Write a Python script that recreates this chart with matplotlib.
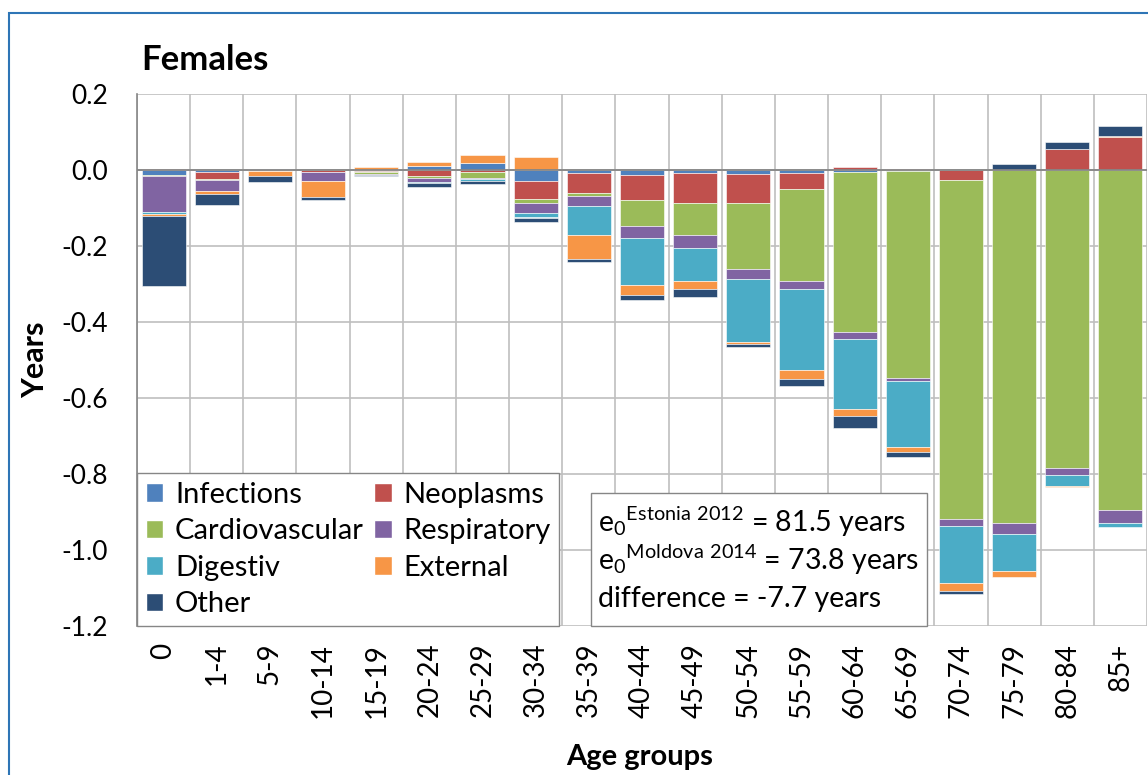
import numpy as np
import matplotlib
matplotlib.use('Agg')
import matplotlib.pyplot as plt
from matplotlib.patches import Rectangle, Patch

plt.rcParams['font.family'] = ['Lato', 'DejaVu Sans']
plt.rcParams['mathtext.default'] = 'regular'
plt.rcParams['axes.unicode_minus'] = False

ages = ['0', '1-4', '5-9', '10-14', '15-19', '20-24', '25-29', '30-34', '35-39', '40-44',
        '45-49', '50-54', '55-59', '60-64', '65-69', '70-74', '75-79', '80-84', '85+']
causes = ['Infections', 'Neoplasms', 'Cardiovascular', 'Respiratory', 'Digestiv', 'External', 'Other']
colors = ['#4F81BD', '#C0504D', '#9BBB59', '#8064A2', '#4BACC6', '#F79646', '#2C4D75']
yticks = [-1.2, -1.0, -0.8, -0.6, -0.4, -0.2, 0.0, 0.2]
ytick_labels = ['-1.2', '-1.0', '-0.8', '-0.6', '-0.4', '-0.2', '0.0', '0.2']

infections = [-0.013, -0.005, -0.001, 0.0, -0.002, 0.011, 0.018, -0.029, -0.009, -0.014,
              -0.009, -0.011, -0.009, -0.005, -0.003, 0.0, 0.0, 0.0, 0.0]
neoplasms = [0.003, -0.018, 0.0, -0.004, -0.003, -0.016, -0.004, -0.048, -0.051, -0.066,
             -0.077, -0.077, -0.040, 0.009, 0.003, -0.026, 0.0, 0.055, 0.088]
cardio = [-0.003, -0.004, -0.001, 0.0, -0.006, -0.006, -0.016, -0.011, -0.009, -0.068,
          -0.085, -0.172, -0.243, -0.420, -0.545, -0.893, -0.928, -0.783, -0.895]
respiratory = [-0.095, -0.029, 0.003, -0.026, -0.002, -0.009, -0.004, -0.026, -0.026, -0.030,
               -0.035, -0.028, -0.021, -0.020, -0.006, -0.018, -0.030, -0.020, -0.033]
digestiv = [-0.004, 0.0, -0.001, 0.0, -0.001, -0.003, -0.006, -0.011, -0.077, -0.124,
            -0.086, -0.164, -0.214, -0.185, -0.176, -0.151, -0.096, -0.028, -0.011]
external = [-0.007, -0.006, -0.013, -0.042, 0.008, 0.009, 0.022, 0.035, -0.062, -0.028,
            -0.020, -0.007, -0.023, -0.018, -0.013, -0.019, -0.018, -0.004, 0.002]
other = [-0.182, -0.029, -0.015, -0.006, -0.003, -0.011, -0.006, -0.011, -0.009, -0.011,
         -0.022, -0.006, -0.018, -0.031, -0.013, -0.008, 0.015, 0.020, 0.027]

data = [infections, neoplasms, cardio, respiratory, digestiv, external, other]

W, H = 1148, 775
fig = plt.figure(figsize=(W / 100, H / 100), dpi=100)


def fx(px):
    return px / W


def fy(py):
    return 1 - py / H


ax = fig.add_axes([fx(137), fy(626), fx(1147) - fx(137), fy(94) - fy(626)])

x = np.arange(len(ages))
pos_bottom = np.zeros(len(ages))
neg_bottom = np.zeros(len(ages))
handles = []
for i, vals in enumerate(data):
    v = np.array(vals)
    bottoms = np.where(v >= 0, pos_bottom, neg_bottom)
    ax.bar(x, v, 0.83, bottom=bottoms, color=colors[i], edgecolor='white', linewidth=0.4, zorder=3)
    pos_bottom += np.where(v >= 0, v, 0)
    neg_bottom += np.where(v < 0, v, 0)
    handles.append(Patch(facecolor=colors[i], edgecolor='white', label=causes[i]))

ax.set_xlim(-0.5, len(ages) - 0.5)
ax.set_ylim(-1.2, 0.2)
ax.set_yticks(yticks)
ax.set_yticklabels(ytick_labels)
ax.set_xticks(x)
ax.set_xticklabels(ages, rotation=90)
ax.set_xticks(np.arange(-0.5, len(ages), 1), minor=True)
ax.tick_params(axis='both', which='both', length=0)
ax.tick_params(axis='y', pad=21, labelsize=19)
ax.tick_params(axis='x', pad=12, labelsize=20)
ax.grid(axis='y', color='#BFBFBF', linewidth=1.2, zorder=0)
ax.grid(axis='x', which='minor', color='#BFBFBF', linewidth=1.2, zorder=0)
ax.axhline(0, color='#868686', linewidth=1.3, zorder=4)
for s in ['top', 'right', 'bottom']:
    ax.spines[s].set_visible(False)
ax.spines['left'].set_color('#868686')
ax.spines['left'].set_linewidth(1.2)

fig.text(fx(141), fy(60), 'Females', fontsize=25, fontweight='bold', va='center', ha='left')
fig.text(fx(35), fy(360), 'Years', fontsize=22, fontweight='bold', rotation=90, va='center', ha='center')
fig.text(fx(640), fy(757), 'Age groups', fontsize=21, fontweight='bold', va='center', ha='center')

order = [0, 2, 4, 6, 1, 3, 5]
leg = ax.legend([handles[k] for k in order], [causes[k] for k in order], ncol=2,
                loc='lower left', bbox_to_anchor=(0, 0), borderaxespad=0, fontsize=21,
                fancybox=False, edgecolor='#868686', framealpha=1,
                handlelength=0.6, handleheight=0.6, handletextpad=0.4,
                labelspacing=0.36, columnspacing=0.35, borderpad=0.3)
leg.get_frame().set_linewidth(1.0)
leg.set_zorder(6)

fig.patches.append(Rectangle((fx(591), fy(626)), fx(927) - fx(591), fy(493) - fy(626),
                             transform=fig.transFigure, facecolor='white', edgecolor='#868686',
                             linewidth=1.0, zorder=5))
fig.text(fx(598), fy(522), r'e$_0$$^{Estonia\ 2012}$ = 81.5 years', fontsize=20.5, va='center', zorder=7)
fig.text(fx(598), fy(560), r'e$_0$$^{Moldova\ 2014}$ = 73.8 years', fontsize=20.5, va='center', zorder=7)
fig.text(fx(598), fy(599), 'difference = -7.7 years', fontsize=20.5, va='center', zorder=7)

fig.patches.append(Rectangle((fx(9), fy(1000)), 2, fy(13) - fy(1000), transform=fig.transFigure,
                             facecolor='none', edgecolor='#2E75B6', linewidth=1.5))

fig.savefig('out.png', dpi=100)
